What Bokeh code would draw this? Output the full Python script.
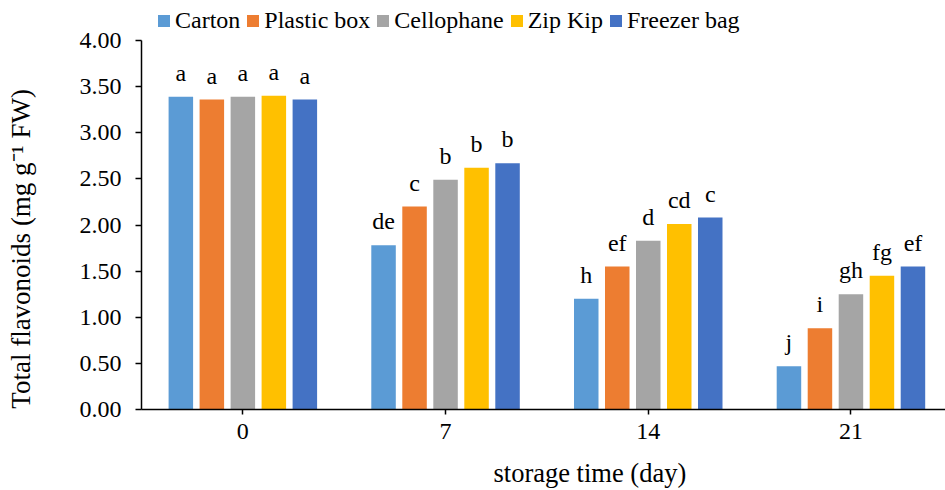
from bokeh.plotting import figure
from bokeh.models import (Range1d, FixedTicker, NumeralTickFormatter, Legend, LegendItem,
                          LabelSet, LinearAxis, ColumnDataSource)
from bokeh.core.properties import value
from bokeh.embed import file_html
from bokeh.resources import INLINE

days = ["0", "7", "14", "21"]
packages = ["Carton", "Plastic box", "Cellophane", "Zip Kip", "Freezer bag"]
colors = ["#5B9BD5", "#ED7D31", "#A5A5A5", "#FFC000", "#4472C4"]

carton = [3.39, 1.78, 1.20, 0.47]
plastic_box = [3.36, 2.20, 1.55, 0.88]
cellophane = [3.39, 2.49, 1.83, 1.25]
zip_kip = [3.40, 2.62, 2.01, 1.45]
freezer_bag = [3.36, 2.67, 2.08, 1.55]

carton_letters = ["a", "de", "h", "j"]
plastic_box_letters = ["a", "c", "ef", "i"]
cellophane_letters = ["a", "b", "d", "gh"]
zip_kip_letters = ["a", "b", "cd", "fg"]
freezer_bag_letters = ["a", "b", "c", "ef"]

y_ticks = [0, 0.5, 1.0, 1.5, 2.0, 2.5, 3.0, 3.5, 4.0]
x_title = "storage time (day)"
y_title = "Total flavonoids (mg g⁻¹ FW)"

series = [carton, plastic_box, cellophane, zip_kip, freezer_bag]
letters = [carton_letters, plastic_box_letters, cellophane_letters, zip_kip_letters, freezer_bag_letters]

FONT = "'Liberation Serif', 'Times New Roman', serif"
PAD_X = "\u2003\u2003\u2003\u2002"  # unbreakable spacing that shifts the centred titles like the original
PAD_Y = "\u2003\u2003\u2003\u2005"
W, H = 945, 490
LEFT, BOTTOM = 141, 81
frame_h = H - BOTTOM
unit_px = (409 - 40) / 4.0
y_end = frame_h / unit_px
cat_px = 202.7
x_end = (W - LEFT) / cat_px

p = figure(width=W, height=H, output_backend="svg", toolbar_location=None,
           x_range=Range1d(0, x_end), y_range=Range1d(0, y_end),
           min_border_left=LEFT, min_border_bottom=BOTTOM, min_border_top=0, min_border_right=0)
p.outline_line_color = None
p.xgrid.visible = False
p.ygrid.visible = False
p.background_fill_color = "white"
p.border_fill_color = "white"

step = 31.0 / cat_px
bw = 24.5 / cat_px
offsets = [-2, -1, 0, 1, 2]

items = []
for k, (vals, lets, name, col) in enumerate(zip(series, letters, packages, colors)):
    xs = [i + 0.5 + offsets[k] * step for i in range(len(days))]
    src = ColumnDataSource(dict(x=xs, top=vals, lab=lets))
    r = p.vbar(x="x", top="top", width=bw, source=src, fill_color=col, line_color=None)
    items.append(LegendItem(label=name, renderers=[r]))
    ls = LabelSet(x="x", y="top", text="lab", source=src, text_align="center",
                  text_baseline="alphabetic", y_offset=16, text_font=value(FONT),
                  text_font_size="24px", text_color="black")
    p.add_layout(ls)

legend = Legend(items=items, orientation="horizontal", location=(15, frame_h - 34),
                glyph_width=15, glyph_height=15, label_standoff=4, spacing=5,
                padding=0, margin=0, border_line_color=None, background_fill_alpha=0,
                label_text_font=FONT, label_text_font_size="24px", label_text_color="black")
p.add_layout(legend, "center")

# y axis (ticks)
ya = p.yaxis[0]
ya.ticker = FixedTicker(ticks=y_ticks)
ya.formatter = NumeralTickFormatter(format="0.00")
ya.bounds = (0, 4)
ya.major_label_text_font = FONT
ya.major_label_text_font_size = "24px"
ya.major_label_standoff = 14
ya.major_tick_out = 6
ya.major_tick_in = 0
ya.minor_tick_out = 0
ya.minor_tick_in = 0
ya.axis_line_width = 1.5
ya.major_tick_line_width = 1.5
ya.axis_line_color = "black"
ya.major_tick_line_color = "black"
ya.major_label_text_color = "black"

# outer left axis carrying only the title
ytitle_axis = LinearAxis(ticker=FixedTicker(ticks=[]), bounds=(0, 4),
                         axis_line_color=None, major_tick_line_color=None,
                         minor_tick_line_color=None, major_tick_out=0, major_tick_in=0,
                         minor_tick_out=0, minor_tick_in=0, major_label_standoff=0,
                         axis_label=y_title + PAD_Y, axis_label_standoff=41,
                         axis_label_text_font=FONT, axis_label_text_font_style="normal",
                         axis_label_text_font_size="27px", axis_label_text_color="black")
p.add_layout(ytitle_axis, "left")

# x axis
xa = p.xaxis[0]
xa.ticker = FixedTicker(ticks=[i + 0.5 for i in range(len(days))])
xa.major_label_overrides = {i + 0.5: d for i, d in enumerate(days)}
xa.axis_label = PAD_X + x_title
xa.axis_label_text_font = FONT
xa.axis_label_text_font_style = "normal"
xa.axis_label_text_font_size = "26.5px"
xa.axis_label_standoff = 16
xa.axis_label_text_color = "black"
xa.major_label_text_font = FONT
xa.major_label_text_font_size = "24px"
xa.major_label_standoff = 9
xa.major_tick_out = 5
xa.major_tick_in = 0
xa.minor_tick_out = 0
xa.minor_tick_in = 0
xa.axis_line_width = 1.5
xa.major_tick_line_width = 1.5
xa.axis_line_color = "black"
xa.major_tick_line_color = "black"
xa.major_label_text_color = "black"

open("out.html", "w").write(file_html(p, INLINE))
